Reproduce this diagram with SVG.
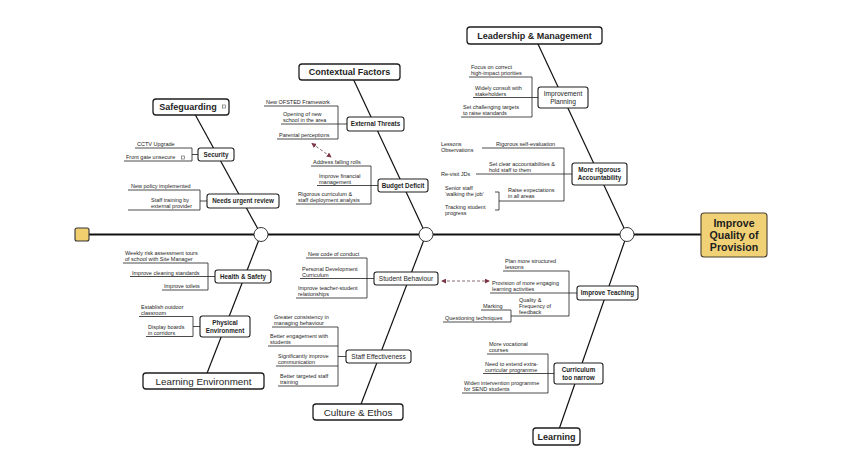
<svg xmlns="http://www.w3.org/2000/svg" width="844" height="474" viewBox="0 0 844 474">
<defs>
<style>
text{font-family:"Liberation Sans",Arial,sans-serif;fill:#1e1e1e}
.it{font-size:5.5px}
.nl{font-size:6.3px;font-weight:bold;text-anchor:middle}
.nr{font-size:6.6px;text-anchor:middle}
.ct{font-size:9px;font-weight:bold;text-anchor:middle}
.cr{font-size:9.8px;text-anchor:middle}
.bx{fill:#fff;stroke:#1e1e1e;stroke-width:1.1}
.cb{fill:#fff;stroke:#1e1e1e;stroke-width:1.3}
.ln{fill:none;stroke:#1e1e1e;stroke-width:0.8}
.bone{fill:none;stroke:#111;stroke-width:1.2}
.spine{fill:none;stroke:#111;stroke-width:1.8}
.joint{fill:#fff;stroke:#222;stroke-width:0.9}
.ic{fill:#fff;stroke:#555;stroke-width:0.6}
.dash{fill:none;stroke:#6a4550;stroke-width:0.8;stroke-dasharray:3 2}
</style>
<marker id="ah" viewBox="0 0 6 6" refX="5" refY="3" markerWidth="5" markerHeight="5" orient="auto-start-reverse" markerUnits="userSpaceOnUse">
<path d="M0 0L6 3L0 6Z" fill="#7a3445"/>
</marker>
</defs>
<rect width="844" height="474" fill="#fff"/>

<g id="connectors">
<line class="spine" x1="89" y1="234.5" x2="701" y2="234.5"/>
<line class="bone" x1="191" y1="107" x2="261" y2="234.5"/>
<line class="bone" x1="261" y1="234.5" x2="204" y2="381"/>
<line class="bone" x1="350" y1="72" x2="426" y2="234.5"/>
<line class="bone" x1="426" y1="234.5" x2="358" y2="412"/>
<line class="bone" x1="534" y1="35.5" x2="627" y2="234.5"/>
<line class="bone" x1="627" y1="234.5" x2="556.5" y2="436.5"/>
<path class="ln" d="M135 148H192V161H124M192 154.5H198"/>
<path class="ln" d="M128 190H200V210H128M200 201H207"/>
<path class="ln" d="M123 263H208V290H162M130 276.5H215"/>
<path class="ln" d="M139 316.5H193V336.5H146M193 326.5H200"/>
<path class="ln" d="M264 106H338V139H277M281 124H347"/>
<path class="ln" d="M311 166H371V204H296M317 185.5H378"/>
<path class="ln" d="M306 258H367V298H296M300 278.5H374"/>
<path class="ln" d="M272 327H338V386H278M268 346H338M276 366H338M338 356.5H346"/>
<path class="ln" d="M469 77H532V117H461M473 97.5H538"/>
<path class="ln" d="M482 148H564V201H499M476 174H572M495 192H499V210H495"/>
<path class="ln" d="M503 271H569V316H511M490 293H577M481 310H511V322H443"/>
<path class="ln" d="M487 354H548V393H462M483 373.5H554"/>
<line class="dash" x1="312" y1="143.5" x2="331" y2="157" marker-start="url(#ah)" marker-end="url(#ah)"/>
<line class="dash" x1="442" y1="281" x2="489" y2="281" marker-start="url(#ah)" marker-end="url(#ah)"/>
<circle class="joint" cx="261" cy="234.5" r="7"/>
<circle class="joint" cx="426" cy="234.5" r="7"/>
<circle class="joint" cx="627" cy="234.5" r="7"/>
</g>

<g id="tail"><rect x="75" y="228" width="14" height="13" rx="2" fill="#f1cf6f" stroke="#333" stroke-width="1.1"/></g>

<g id="head">
<rect x="701" y="213" width="66" height="44" rx="3" fill="#f1d176" stroke="#4a4030" stroke-width="1.1"/>
<text x="734" y="226.5" font-size="10.6" font-weight="bold" text-anchor="middle" fill="#333">Improve</text>
<text x="734" y="238.8" font-size="10.6" font-weight="bold" text-anchor="middle" fill="#333">Quality of</text>
<text x="734" y="251.1" font-size="10.6" font-weight="bold" text-anchor="middle" fill="#333">Provision</text>
</g>

<g id="safeguarding">
<rect class="cb" x="153" y="99" width="76" height="16" rx="3"/>
<text class="ct" x="188" y="110.3">Safeguarding</text>
<rect class="ic" x="222.5" y="105" width="3" height="3"/>
</g>
<g id="security">
<rect class="bx" x="198" y="148" width="36" height="13" rx="2.5"/>
<text class="nl" x="216" y="156.7">Security</text>
<text class="it" x="137" y="146">CCTV Upgrade</text>
<text class="it" x="126" y="159">Front gate unsecure</text>
<rect class="ic" x="181.5" y="156" width="3" height="3"/>
</g>
<g id="needs-urgent-review">
<rect class="bx" x="207" y="194" width="72" height="14" rx="2.5"/>
<text class="nl" x="243" y="203.2">Needs urgent review</text>
<text class="it" x="131" y="188">New policy implemented</text>
<text class="it" x="151" y="202">Staff training by</text>
<text class="it" x="151" y="208">external provider</text>
</g>

<g id="learning-environment">
<rect class="cb" x="143" y="373" width="121" height="16" rx="3"/>
<text class="cr" x="203.5" y="384.6">Learning Environment</text>
</g>
<g id="health-safety">
<rect class="bx" x="215" y="270" width="56" height="13" rx="2.5"/>
<text class="nl" x="243" y="278.7">Health &amp; Safety</text>
<text class="it" x="125" y="255">Weekly risk assessment tours</text>
<text class="it" x="125" y="261">of school with Site Manager</text>
<text class="it" x="132" y="274.5">Improve cleaning standards</text>
<text class="it" x="164" y="288">Improve toilets</text>
</g>
<g id="physical-environment">
<rect class="bx" x="200" y="316" width="50" height="21" rx="2.5"/>
<text class="nl" x="225" y="324.8">Physical</text>
<text class="nl" x="225" y="332.5">Environment</text>
<text class="it" x="141" y="308.5">Establish outdoor</text>
<text class="it" x="141" y="314.5">classroom</text>
<text class="it" x="148" y="328.5">Display boards</text>
<text class="it" x="148" y="334.5">in corridors</text>
</g>

<g id="contextual-factors">
<rect class="cb" x="299" y="64" width="101" height="16" rx="3"/>
<text class="ct" x="349.5" y="75.3">Contextual Factors</text>
</g>
<g id="external-threats">
<rect class="bx" x="347" y="117" width="57" height="14" rx="2.5"/>
<text class="nl" x="375.5" y="126.3">External Threats</text>
<text class="it" x="266" y="104">New OFSTED Framework</text>
<text class="it" x="283" y="116">Opening of new</text>
<text class="it" x="283" y="122">school in the area</text>
<text class="it" x="279" y="137">Parental perceptions</text>
</g>
<g id="budget-deficit">
<rect class="bx" x="378" y="179" width="50" height="13" rx="2.5"/>
<text class="nl" x="403" y="187.7">Budget Deficit</text>
<text class="it" x="313" y="164">Address falling rolls</text>
<text class="it" x="319" y="177.5">Improve financial</text>
<text class="it" x="319" y="183.5">management</text>
<text class="it" x="298" y="196">Rigorous curriculum &amp;</text>
<text class="it" x="298" y="202">staff deployment analysis</text>
</g>

<g id="culture-ethos">
<rect class="cb" x="313" y="404" width="90" height="16" rx="3"/>
<text class="cr" x="358" y="415.6">Culture &amp; Ethos</text>
</g>
<g id="student-behaviour">
<rect class="bx" x="374" y="272" width="64" height="13" rx="2.5"/>
<text class="nr" x="406" y="280.9">Student Behaviour</text>
<text class="it" x="308" y="256">New code of conduct</text>
<text class="it" x="302" y="270.5">Personal Development</text>
<text class="it" x="302" y="276.5">Curriculum</text>
<text class="it" x="298" y="290">Improve teacher-student</text>
<text class="it" x="298" y="296">relationships</text>
</g>
<g id="staff-effectiveness">
<rect class="bx" x="346" y="350" width="65" height="13" rx="2.5"/>
<text class="nr" x="378.5" y="358.9">Staff Effectiveness</text>
<text class="it" x="274" y="319">Greater consistency in</text>
<text class="it" x="274" y="325">managing behaviour</text>
<text class="it" x="270" y="338">Better engagement with</text>
<text class="it" x="270" y="344">students</text>
<text class="it" x="278" y="358">Significantly improve</text>
<text class="it" x="278" y="364">communication</text>
<text class="it" x="280" y="378">Better targeted staff</text>
<text class="it" x="280" y="384">training</text>
</g>

<g id="leadership-management">
<rect class="cb" x="467" y="27" width="135" height="17" rx="3"/>
<text class="ct" x="534.5" y="38.8">Leadership &amp; Management</text>
</g>
<g id="improvement-planning">
<rect class="bx" x="538" y="87" width="50" height="21" rx="2.5"/>
<text class="nr" x="563" y="96">Improvement</text>
<text class="nr" x="563" y="103.6">Planning</text>
<text class="it" x="471" y="69">Focus on correct</text>
<text class="it" x="471" y="75">high-impact priorities</text>
<text class="it" x="475" y="89.5">Widely consult with</text>
<text class="it" x="475" y="95.5">stakeholders</text>
<text class="it" x="463" y="109">Set challenging targets</text>
<text class="it" x="463" y="115">to raise standards</text>
</g>
<g id="more-rigorous-accountability">
<rect class="bx" x="572" y="163" width="55" height="22" rx="2.5"/>
<text class="nl" x="599.5" y="172.3">More rigorous</text>
<text class="nl" x="599.5" y="180">Accountability</text>
<text class="it" x="441" y="146">Lessons</text>
<text class="it" x="441" y="152">Observations</text>
<text class="it" x="496" y="146">Rigorous self-evaluation</text>
<text class="it" x="489" y="166">Set clear accountabilities &amp;</text>
<text class="it" x="489" y="172">hold staff to them</text>
<text class="it" x="441" y="176">Re-visit JDs</text>
<text class="it" x="508" y="192">Raise expectations</text>
<text class="it" x="508" y="198">in all areas</text>
<text class="it" x="445" y="190">Senior staff</text>
<text class="it" x="445" y="196">‘walking the job’</text>
<text class="it" x="445" y="209">Tracking student</text>
<text class="it" x="445" y="215">progress</text>
</g>

<g id="learning">
<rect class="cb" x="533" y="428" width="47" height="17" rx="3"/>
<text class="ct" x="556.5" y="439.8">Learning</text>
</g>
<g id="improve-teaching">
<rect class="bx" x="577" y="286" width="61" height="14" rx="2.5"/>
<text class="nl" x="607.5" y="295.3">Improve Teaching</text>
<text class="it" x="505" y="263">Plan more structured</text>
<text class="it" x="505" y="269">lessons</text>
<text class="it" x="492" y="285">Provision of more engaging</text>
<text class="it" x="492" y="291">learning activities</text>
<text class="it" x="519" y="302">Quality &amp;</text>
<text class="it" x="519" y="308">Frequency of</text>
<text class="it" x="519" y="314">feedback</text>
<text class="it" x="483" y="308">Marking</text>
<text class="it" x="445" y="320">Questioning techniques</text>
</g>
<g id="curriculum-too-narrow">
<rect class="bx" x="554" y="363" width="49" height="21" rx="2.5"/>
<text class="nl" x="578.5" y="372">Curriculum</text>
<text class="nl" x="578.5" y="379.7">too narrow</text>
<text class="it" x="489" y="346">More vocational</text>
<text class="it" x="489" y="352">courses</text>
<text class="it" x="485" y="365.5">Need to extend extra-</text>
<text class="it" x="485" y="371.5">curricular programme</text>
<text class="it" x="464" y="385">Widen intervention programme</text>
<text class="it" x="464" y="391">for SEND students</text>
</g>
</svg>
